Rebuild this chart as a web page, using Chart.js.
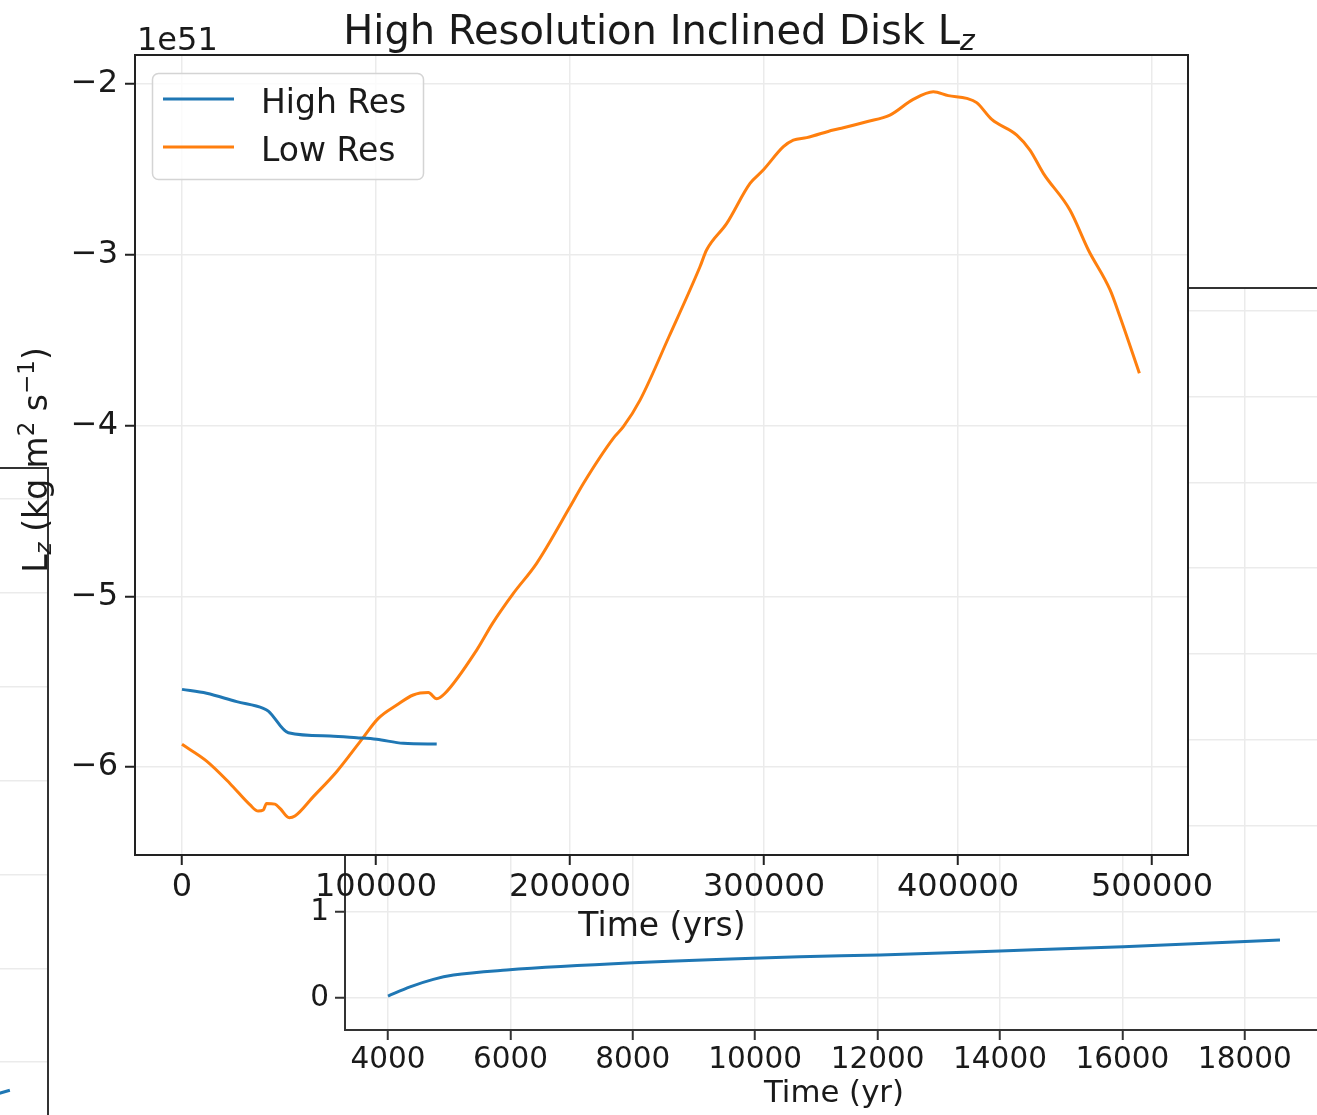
<!DOCTYPE html>
<html><head><meta charset="utf-8">
<script src="https://cdn.jsdelivr.net/npm/chart.js@4"></script>
<style>
html,body{margin:0;padding:0;background:#fff;}
body{width:1317px;height:1115px;overflow:hidden;position:relative;}
canvas{position:absolute;}
</style></head><body>
<canvas id="leftBg" width="349" height="1200" style="left:-300px;top:0"></canvas>
<canvas id="inset" width="1400" height="1115" style="left:0;top:0"></canvas>
<canvas id="main" width="1317" height="1115" style="left:0;top:0"></canvas>
<script>
// ---------- data ----------
const highResTime = [0, 12700, 28200, 41900, 44500, 54800, 76300, 90000, 100300, 114100, 131300];
const highResLz   = [-5.545, -5.568, -5.617, -5.656, -5.672, -5.799, -5.818, -5.828, -5.837, -5.861, -5.865];

const lowResTime = [0, 12700, 24700, 35100, 39300, 41900, 43600, 47900, 50500, 55300, 58200, 67700, 79700, 91800, 101200, 110700, 119200, 127000, 131300, 135600, 151900, 160000, 170800, 182800, 200000, 206900, 222300, 227500, 236100, 251000, 267000, 270400, 280800, 292800, 299600, 310000, 315100, 322000, 335700, 340900, 352900, 364900, 376900, 387300, 395000, 404500, 409600, 417400, 430300, 437100, 444000, 457700, 467200, 478400, 483500, 493500];
const lowResLz   = [-5.867, -5.965, -6.096, -6.222, -6.258, -6.252, -6.213, -6.217, -6.242, -6.297, -6.287, -6.173, -6.027, -5.851, -5.715, -5.637, -5.578, -5.564, -5.600, -5.568, -5.315, -5.160, -4.983, -4.807, -4.476, -4.339, -4.075, -4.007, -3.851, -3.480, -3.070, -2.972, -2.816, -2.582, -2.504, -2.367, -2.328, -2.314, -2.269, -2.256, -2.221, -2.182, -2.090, -2.045, -2.068, -2.084, -2.109, -2.207, -2.299, -2.387, -2.523, -2.738, -2.972, -3.206, -3.363, -3.694];

const mainXTicks = [0, 100000, 200000, 300000, 400000, 500000];
const mainYTicks = [-2, -3, -4, -5, -6];

const insetTime  = [4000, 4360, 4740, 5070, 5940, 8010, 10730, 12040, 14000, 16015, 18575];
const insetValue = [0.023, 0.13, 0.217, 0.267, 0.326, 0.41, 0.48, 0.50, 0.547, 0.597, 0.674];
const insetXTicks = [4000, 6000, 8000, 10000, 12000, 14000, 16000, 18000];
const insetYTicks = [0, 1, 2, 3, 4, 5, 6, 7, 8];

const leftBgX = [60, 87.2];
const leftBgY = [-0.55, -0.30];
const leftBgYTicks = [0, 1, 2, 3, 4, 5, 6];

// ---------- helpers ----------
const FONT = '"DejaVu Sans", "Liberation Sans", sans-serif';
const TXT = '#1a1a1a';
const GRID = '#ebebeb';
function fixedSize(size){ return function(scale){ if(scale.isHorizontal()) scale.height = size; else scale.width = size; }; }
function setTicks(arr){ return function(scale){ scale.ticks = arr.map(v => ({value: v})); }; }
function pts(xs, ys){ return xs.map((x,i) => ({x: x, y: ys[i]})); }
function minus(v){ return (v < 0 ? '\u2212' : '') + Math.abs(v); }

const framePlugin = {
  id: 'frame',
  beforeDraw(chart, args, opts){
    const a = chart.chartArea, c = chart.ctx;
    if (opts.fill){ c.save(); c.fillStyle = opts.fill; c.fillRect(a.left, a.top, a.right - a.left, a.bottom - a.top); c.restore(); }
  },
  afterDraw(chart, args, opts){
    const a = chart.chartArea, c = chart.ctx;
    c.save(); c.strokeStyle = opts.color || '#222'; c.lineWidth = opts.width || 2;
    c.strokeRect(a.left, a.top, a.right - a.left, a.bottom - a.top); c.restore();
  }
};

function drawRuns(ctx, runs, cx, baseline){
  let total = 0;
  runs.forEach(r => { ctx.font = r.f; r.w = ctx.measureText(r.t).width; total += r.w; });
  let x = cx - total/2;
  ctx.textAlign = 'left'; ctx.textBaseline = 'alphabetic';
  runs.forEach(r => { ctx.font = r.f; ctx.fillText(r.t, x, baseline + (r.dy || 0)); x += r.w; });
}

// ---------- left background chart (partly visible) ----------
new Chart(document.getElementById('leftBg'), {
  type: 'line',
  data: { datasets: [{ data: pts(leftBgX, leftBgY), borderColor: '#1f77b4', borderWidth: 3, pointRadius: 0, fill: false }] },
  plugins: [framePlugin],
  options: {
    responsive: false, animation: false, devicePixelRatio: 1,
    layout: { padding: { top: 468, right: 1, left: 0, bottom: 0 } },
    plugins: { legend: { display: false }, tooltip: { enabled: false }, frame: { color: '#333', width: 2 } },
    scales: {
      x: { type: 'linear', min: 0, max: 100, afterFit: fixedSize(50),
           ticks: { display: false }, grid: { display: false }, border: { display: false } },
      y: { type: 'linear', min: -0.936, max: 6.33, afterFit: fixedSize(50), afterBuildTicks: setTicks(leftBgYTicks),
           ticks: { display: false }, grid: { color: GRID, lineWidth: 1.5, drawTicks: false }, border: { display: false } }
    }
  }
});

// ---------- inset / background chart ----------
const insetText = {
  id: 'insetText',
  afterDraw(chart){
    const c = chart.ctx; c.save(); c.fillStyle = TXT;
    drawRuns(c, [{t: 'Time (yr)', f: '30.8px ' + FONT}], 834, 1102);
    c.restore();
  }
};
new Chart(document.getElementById('inset'), {
  type: 'line',
  data: { datasets: [{ data: pts(insetTime, insetValue), borderColor: '#1f77b4', borderWidth: 3, pointRadius: 0, fill: false, cubicInterpolationMode: 'monotone' }] },
  plugins: [framePlugin, insetText],
  options: {
    responsive: false, animation: false, devicePixelRatio: 1,
    layout: { padding: { top: 288, right: 77, left: 0, bottom: 0 } },
    plugins: { legend: { display: false }, tooltip: { enabled: false }, frame: { color: '#333', width: 2 } },
    scales: {
      x: { type: 'linear', min: 3297, max: 19278, afterFit: fixedSize(85), afterBuildTicks: setTicks(insetXTicks),
           ticks: { color: TXT, font: { family: FONT, size: 29.5 }, padding: 3, maxRotation: 0, autoSkip: false, callback: v => String(v) },
           grid: { color: GRID, lineWidth: 1.5, tickLength: 10, tickColor: '#333', tickWidth: 2 }, border: { display: false } },
      y: { type: 'linear', min: -0.372, max: 8.26, afterFit: fixedSize(345), afterBuildTicks: setTicks(insetYTicks),
           ticks: { color: TXT, font: { family: FONT, size: 29.5 }, padding: 6, callback: v => String(v) },
           grid: { color: GRID, lineWidth: 1.5, tickLength: 10, tickColor: '#333', tickWidth: 2 }, border: { display: false } }
    }
  }
});

// ---------- main chart ----------
const mainText = {
  id: 'mainText',
  afterDraw(chart){
    const c = chart.ctx; c.save(); c.fillStyle = TXT;
    // title
    drawRuns(c, [{t: 'High Resolution Inclined Disk L', f: '40px ' + FONT}, {t: 'z', f: 'italic 28px ' + FONT, dy: 6}], 659, 44);
    // offset text
    c.font = '32px ' + FONT; c.textAlign = 'left'; c.textBaseline = 'alphabetic';
    c.fillText('1e51', 137, 50);
    // x label
    drawRuns(c, [{t: 'Time (yrs)', f: '33px ' + FONT}], 662, 936);
    // y label (rotated)
    c.save(); c.translate(47, 460); c.rotate(-Math.PI/2);
    drawRuns(c, [
      {t: 'L', f: '33px ' + FONT},
      {t: 'z', f: 'italic 23px ' + FONT, dy: 4},
      {t: ' (kg ', f: '33px ' + FONT},
      {t: 'm', f: '33px ' + FONT},
      {t: '2', f: '23px ' + FONT, dy: -13},
      {t: ' s', f: '33px ' + FONT},
      {t: '\u22121', f: '23px ' + FONT, dy: -13},
      {t: ')', f: '33px ' + FONT}
    ], 0, 0);
    c.restore();
    // legend
    const lx = 152.5, ly = 73.5, lw = 271, lh = 106;
    c.beginPath(); c.roundRect(lx, ly, lw, lh, 6);
    c.fillStyle = 'rgba(255,255,255,0.8)'; c.fill();
    c.strokeStyle = '#d4d4d4'; c.lineWidth = 1.5; c.stroke();
    const rows = [99, 147];
    chart.data.datasets.forEach((ds, i) => {
      c.beginPath(); c.moveTo(163, rows[i]); c.lineTo(234, rows[i]);
      c.strokeStyle = ds.borderColor; c.lineWidth = 3; c.stroke();
      c.fillStyle = TXT; c.font = '33px ' + FONT; c.textAlign = 'left'; c.textBaseline = 'alphabetic';
      c.fillText(ds.label, 261, rows[i] + 13.5);
    });
    c.restore();
  }
};
new Chart(document.getElementById('main'), {
  type: 'line',
  data: { datasets: [
    { label: 'High Res', data: pts(highResTime, highResLz), borderColor: '#1f77b4', borderWidth: 3, pointRadius: 0, fill: false, cubicInterpolationMode: 'monotone' },
    { label: 'Low Res', data: pts(lowResTime, lowResLz), borderColor: '#ff7f0e', borderWidth: 3, pointRadius: 0, fill: false, cubicInterpolationMode: 'monotone' }
  ] },
  plugins: [framePlugin, mainText],
  options: {
    responsive: false, animation: false, devicePixelRatio: 1,
    layout: { padding: { top: 55, right: 129, left: 0, bottom: 0 } },
    plugins: { legend: { display: false }, tooltip: { enabled: false }, frame: { fill: '#ffffff', color: '#222', width: 2 } },
    scales: {
      x: { type: 'linear', min: -24227, max: 518557, afterFit: fixedSize(260), afterBuildTicks: setTicks(mainXTicks),
           ticks: { color: TXT, font: { family: FONT, size: 32 }, padding: 3, maxRotation: 0, autoSkip: false, callback: v => String(v) },
           grid: { color: GRID, lineWidth: 1.5, tickLength: 10, tickColor: '#222', tickWidth: 2 }, border: { display: false } },
      y: { type: 'linear', min: -6.515, max: -1.83, afterFit: fixedSize(135), afterBuildTicks: setTicks(mainYTicks),
           ticks: { color: TXT, font: { family: FONT, size: 32 }, padding: 7, callback: v => minus(v) },
           grid: { color: GRID, lineWidth: 1.5, tickLength: 10, tickColor: '#222', tickWidth: 2 }, border: { display: false } }
    }
  }
});
</script>
</body></html>
